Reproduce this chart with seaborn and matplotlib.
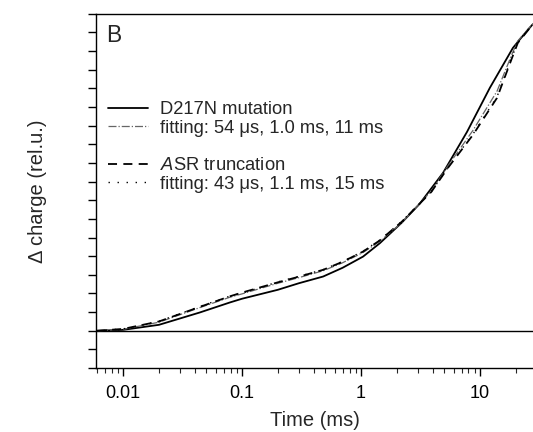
import matplotlib
matplotlib.use("Agg")
import matplotlib.pyplot as plt
import seaborn as sns
import pandas as pd

# values (time in ms, charge in rel.u.)
t_d217n = [0.006, 0.01, 0.02, 0.044, 0.079, 0.1, 0.2, 0.3, 0.48, 0.7, 1.04, 1.44, 2.2, 3.1, 4.89, 7.78, 12.1, 18.9, 22.5, 27.5, 28]
q_d217n = [0, 0.05, 0.32, 0.98, 1.52, 1.72, 2.2, 2.55, 2.91, 3.38, 3.98, 4.7, 5.8, 6.8, 8.47, 10.67, 13.03, 15.17, 15.76, 16.41, 16.45]

t_asr = [0.006, 0.01, 0.02, 0.044, 0.079, 0.1, 0.2, 0.3, 0.48, 0.7, 1.04, 1.44, 2.2, 3.9, 5.38, 8.73, 13.9, 18.6, 20.8, 26.3, 28]
q_asr = [0, 0.1, 0.5, 1.28, 1.85, 2.05, 2.6, 2.9, 3.27, 3.7, 4.25, 4.85, 5.85, 7.45, 8.74, 10.51, 12.49, 14.64, 15.44, 16.25, 16.45]

fit_d217n = [0, 0.08, 0.46, 1.24, 1.8, 1.98, 2.55, 2.85, 3.22, 3.65, 4.2, 4.8, 5.8, 7.5, 8.85, 10.75, 12.85, 14.85, 15.55, 16.3, 16.45]
fit_asr = [0, 0.1, 0.51, 1.3, 1.86, 2.02, 2.62, 2.92, 3.28, 3.72, 4.27, 4.87, 5.87, 7.47, 8.76, 10.55, 12.55, 14.7, 15.48, 16.28, 16.47]

sns.set_style("ticks")
plt.rcParams['font.family'] = ['Liberation Sans', 'DejaVu Sans']
plt.rcParams['mathtext.fontset'] = 'custom'
plt.rcParams['mathtext.it'] = 'Liberation Sans:italic'
plt.rcParams['mathtext.rm'] = 'Liberation Sans'

fig = plt.figure(figsize=(5.33, 4.32), dpi=100)
ax = fig.add_axes([0.180, 0.148, 0.82, 0.820])

d1 = pd.DataFrame({"t": t_d217n, "q": q_d217n})
d2 = pd.DataFrame({"t": t_asr, "q": q_asr, "f1": fit_d217n, "f2": fit_asr})

ax.axhline(0, color="black", lw=1.0)
sns.lineplot(data=d1, x="t", y="q", ax=ax, color="black", lw=1.3, label="D217N mutation")
sns.lineplot(data=d2, x="t", y="f1", ax=ax, color="#666666", lw=0.9, ls="-.", label="fitting: 54 \u03bcs, 1.0 ms, 11 ms")
sns.lineplot(data=d2, x="t", y="q", ax=ax, color="black", lw=1.3, ls=(0, (5, 3.5)), label="$\\mathit{A}$SR truncation")
sns.lineplot(data=d2, x="t", y="f2", ax=ax, color="black", lw=1.0, ls=(0, (1, 5.5)), label="fitting: 43 \u03bcs, 1.1 ms, 15 ms")

ax.set_xscale("log")
ax.set_xlim(0.0059, 27.9)
ax.set_ylim(-2, 17)
ax.set_xticks([0.01, 0.1, 1, 10])
ax.set_xticklabels(["0.01", "0.1", "1", "10"])
ax.set_yticks(range(-2, 18))
ax.set_yticklabels([])
ax.tick_params(axis="both", direction="out", length=6, width=1, labelsize=13, colors="black", pad=6)
ax.tick_params(axis="x", which="minor", direction="out", length=3.5, width=0.8)
ax.set_xlabel("Time (ms)", fontsize=14.5, labelpad=7)
ax.set_ylabel("\u0394 charge (rel.u.)", fontsize=14.5, labelpad=23)

for s in ["left", "top", "bottom"]:
    ax.spines[s].set_linewidth(1.0)
    ax.spines[s].set_color("black")
ax.spines["right"].set_visible(False)

ax.text(0.024, 0.972, "B", transform=ax.transAxes, fontsize=16.5, va="top", ha="left")

handles, labels = ax.get_legend_handles_labels()
ax.get_legend().remove()
kw = dict(frameon=False, fontsize=13.2, handlelength=2.2, handletextpad=0.65,
          labelspacing=0.08, borderpad=0, borderaxespad=0, loc="upper left")
leg1 = ax.legend(handles[:2], labels[:2], bbox_to_anchor=(0.027, 0.753), **kw)
ax.add_artist(leg1)
ax.legend(handles[2:], labels[2:], bbox_to_anchor=(0.027, 0.595), **kw)

fig.savefig("out.png", dpi=100)
